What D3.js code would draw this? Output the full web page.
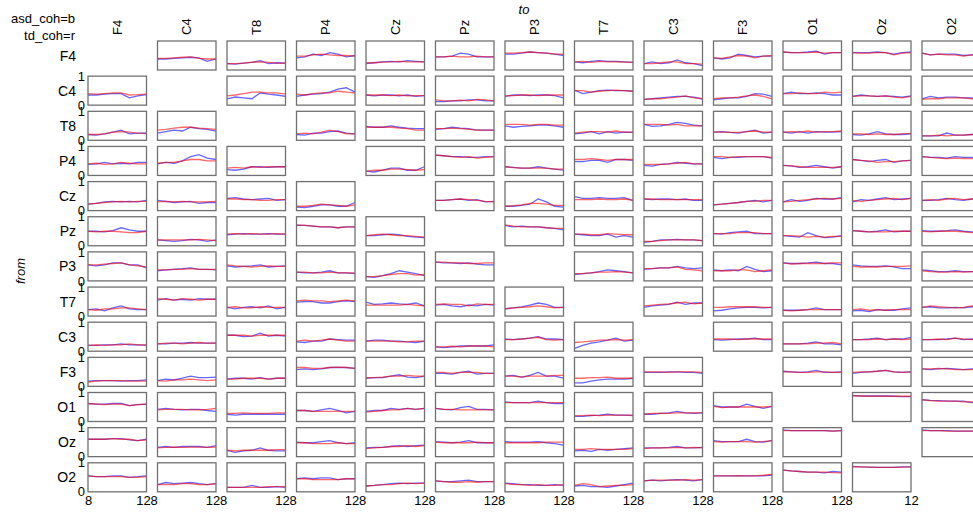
<!DOCTYPE html>
<html><head><meta charset="utf-8">
<script src="https://cdn.jsdelivr.net/npm/d3@7"></script>
<style>body{margin:0;background:#fff}svg{display:block;font-family:Arial,"Liberation Sans",Helvetica,sans-serif}</style>
</head><body><svg id="c" width="973" height="512"></svg>
<script>
const channels = ["F4","C4","T8","P4","Cz","Pz","P3","T7","C3","F3","O1","Oz","O2"];
const freqs = [8,25,42,59,76,93,110,128];
const yTickValues = [0,1];
const legendLines = ["asd_coh=b","td_coh=r"];
const bottomTickLabels = [["8","128"],["128"],["128"],["128"],["128"],["128"],["128"],["128"],["128"],["128"],["128"],["12"],[]];

// asd (blue) per "from" row, 13 "to" columns each
const asd_F4 = [null,[.38,.38,.40,.42,.44,.42,.30,.38],[.22,.20,.24,.26,.32,.22,.25,.24],[.42,.45,.55,.50,.60,.55,.45,.50],[.22,.25,.28,.30,.28,.32,.30,.28],[.45,.45,.48,.58,.55,.45,.45,.45],[.55,.55,.58,.62,.60,.58,.55,.50],[.28,.25,.30,.32,.30,.30,.28,.26],[.22,.28,.22,.25,.35,.25,.22,.15],[.42,.38,.42,.55,.50,.45,.48,.48],[.62,.60,.60,.62,.65,.55,.60,.60],[.60,.60,.60,.62,.60,.55,.60,.62],[.58,.52,.55,.55,.55,.50,.52,.52]];
const asd_C4 = [[.35,.35,.38,.40,.40,.25,.32,.36],null,[.22,.28,.25,.22,.42,.38,.35,.30],[.30,.35,.38,.40,.45,.55,.60,.45],[.35,.32,.35,.35,.32,.35,.30,.33],[.12,.12,.15,.15,.18,.18,.15,.15],[.30,.35,.35,.33,.35,.35,.33,.25],[.52,.40,.45,.50,.52,.50,.50,.48],[.20,.22,.25,.28,.30,.30,.28,.22],[.18,.22,.25,.25,.30,.40,.38,.30],[.40,.45,.40,.40,.42,.40,.35,.35],[.30,.35,.32,.30,.32,.30,.28,.32],[.22,.30,.25,.28,.28,.25,.25,.25]];
const asd_T8 = [[.20,.18,.22,.28,.35,.22,.25,.25],[.25,.30,.35,.32,.45,.40,.38,.32],null,[.20,.18,.25,.25,.30,.32,.25,.22],[.48,.45,.45,.50,.45,.42,.40,.40],[.38,.40,.45,.42,.40,.35,.35,.35],[.50,.45,.48,.50,.52,.52,.50,.45],[.22,.25,.30,.22,.30,.25,.28,.27],[.55,.48,.50,.55,.62,.58,.52,.50],[.28,.30,.27,.25,.30,.35,.25,.28],[.28,.25,.30,.25,.30,.28,.28,.30],[.20,.18,.22,.30,.22,.20,.20,.22],[.15,.15,.15,.25,.18,.18,.20,.20]];
const asd_P4 = [[.38,.40,.45,.40,.42,.40,.45,.45],[.40,.45,.42,.50,.65,.72,.60,.55],[.20,.18,.22,.30,.30,.28,.30,.30],null,[.15,.12,.18,.25,.25,.18,.18,.30],[.70,.68,.65,.65,.62,.62,.65,.65],[.30,.28,.25,.25,.30,.25,.22,.18],[.48,.48,.52,.52,.45,.55,.55,.52],[.35,.32,.38,.40,.45,.42,.40,.40],[.62,.58,.62,.62,.65,.65,.65,.60],[.35,.33,.28,.30,.35,.30,.25,.30],[.55,.52,.48,.52,.55,.45,.50,.52],[.65,.62,.62,.60,.65,.62,.62,.60]];
const asd_Cz = [[.22,.25,.30,.32,.30,.32,.30,.35],[.35,.32,.28,.30,.32,.25,.28,.28],[.42,.45,.40,.38,.40,.42,.35,.38],[.12,.10,.15,.20,.20,.15,.15,.28],null,[.35,.35,.38,.40,.35,.38,.30,.32],[.15,.15,.18,.22,.40,.30,.15,.12],[.48,.42,.42,.45,.42,.42,.45,.35],[.40,.38,.40,.40,.38,.40,.35,.35],[.20,.22,.25,.28,.32,.35,.30,.35],[.30,.38,.32,.35,.42,.40,.40,.45],[.30,.38,.35,.40,.45,.38,.40,.42],[.35,.35,.38,.42,.38,.35,.40,.42]];
const asd_Pz = [[.50,.50,.48,.52,.62,.55,.50,.50],[.20,.18,.15,.18,.22,.20,.15,.20],[.38,.40,.42,.40,.40,.42,.40,.40],[.70,.70,.68,.65,.65,.62,.65,.65],[.35,.35,.38,.40,.38,.32,.30,.28],null,[.70,.65,.68,.65,.65,.62,.60,.55],[.40,.38,.35,.35,.40,.30,.35,.30],[.12,.15,.20,.20,.22,.20,.20,.18],[.42,.40,.45,.48,.50,.42,.42,.42],[.35,.32,.30,.45,.35,.28,.30,.35],[.52,.50,.48,.50,.55,.48,.50,.50],[.52,.50,.50,.52,.55,.50,.48,.48]];
const asd_P3 = [[.55,.52,.55,.62,.62,.55,.55,.45],[.35,.38,.40,.42,.45,.40,.40,.38],[.52,.48,.50,.52,.55,.48,.50,.52],[.30,.28,.28,.30,.35,.28,.28,.25],[.15,.12,.18,.25,.35,.30,.25,.18],[.65,.62,.62,.60,.62,.58,.55,.55],null,[.22,.25,.28,.32,.38,.35,.32,.28],[.40,.42,.45,.45,.50,.45,.42,.45],[.38,.35,.38,.35,.50,.40,.32,.35],[.62,.60,.60,.62,.65,.60,.60,.55],[.55,.52,.50,.50,.52,.48,.42,.42],[.38,.35,.32,.32,.35,.32,.32,.32]];
const asd_T7 = [[.22,.25,.18,.28,.35,.25,.22,.22],[.55,.60,.55,.58,.55,.60,.58,.58],[.30,.25,.30,.32,.28,.35,.25,.30],[.48,.50,.50,.45,.45,.50,.52,.50],[.48,.40,.42,.45,.42,.40,.45,.35],[.38,.40,.35,.32,.38,.35,.40,.38],[.25,.28,.32,.38,.45,.40,.30,.30],null,[.30,.35,.38,.40,.48,.40,.45,.45],[.18,.20,.25,.28,.30,.30,.28,.30],[.20,.20,.20,.22,.28,.22,.22,.22],[.18,.20,.15,.22,.20,.20,.25,.28],[.30,.32,.28,.28,.30,.28,.32,.32]];
const asd_C3 = [[.20,.20,.22,.22,.25,.22,.22,.20],[.25,.25,.28,.28,.30,.28,.28,.28],[.55,.55,.50,.52,.62,.52,.55,.52],[.32,.30,.35,.35,.42,.40,.38,.38],[.35,.38,.38,.35,.35,.32,.30,.35],[.15,.12,.15,.18,.18,.18,.18,.22],[.42,.40,.42,.45,.50,.42,.42,.40],[.10,.20,.28,.32,.38,.45,.35,.38],null,[.40,.38,.40,.42,.42,.45,.40,.40],[.25,.25,.25,.28,.32,.25,.25,.22],[.40,.40,.42,.45,.40,.42,.42,.48],[.40,.40,.40,.42,.45,.40,.42,.42]];
const asd_F3 = [[.18,.20,.20,.20,.18,.20,.20,.22],[.20,.25,.22,.28,.35,.30,.30,.32],[.25,.28,.28,.25,.30,.25,.28,.28],[.58,.60,.58,.60,.65,.65,.65,.62],[.28,.30,.30,.35,.40,.32,.30,.35],[.45,.45,.42,.48,.52,.42,.45,.45],[.35,.38,.32,.38,.48,.35,.35,.28],[.12,.12,.18,.22,.25,.25,.25,.28],[.48,.48,.48,.50,.50,.48,.48,.45],null,[.52,.50,.48,.50,.55,.48,.48,.50],[.45,.48,.50,.52,.55,.50,.48,.50],[.60,.58,.60,.62,.60,.58,.60,.60]];
const asd_O1 = [[.62,.60,.60,.62,.62,.55,.58,.60],[.42,.45,.42,.40,.42,.42,.38,.35],[.25,.22,.25,.25,.25,.25,.25,.25],[.38,.38,.35,.40,.45,.38,.30,.35],[.35,.38,.38,.45,.42,.45,.42,.45],[.45,.42,.40,.48,.52,.42,.42,.40],[.68,.65,.65,.65,.70,.65,.62,.62],[.18,.18,.20,.22,.25,.22,.22,.20],[.25,.25,.28,.30,.35,.30,.28,.30],[.55,.50,.50,.50,.60,.52,.45,.52],null,[.90,.88,.88,.88,.88,.87,.86,.86],[.75,.73,.72,.70,.70,.70,.65,.70]];
const asd_Oz = [[.60,.60,.60,.62,.62,.58,.55,.60],[.32,.35,.32,.35,.35,.35,.32,.38],[.22,.15,.20,.22,.30,.22,.20,.20],[.50,.48,.48,.52,.55,.48,.45,.48],[.30,.32,.32,.35,.38,.35,.38,.40],[.52,.50,.48,.50,.55,.48,.48,.48],[.52,.50,.50,.50,.52,.48,.45,.40],[.20,.22,.18,.25,.22,.25,.28,.30],[.30,.30,.30,.32,.35,.30,.30,.32],[.55,.52,.52,.52,.60,.52,.50,.55],[.92,.90,.90,.90,.90,.90,.88,.90],null,[.92,.90,.90,.90,.88,.88,.88,.88]];
const asd_O2 = [[.55,.52,.52,.55,.55,.50,.52,.55],[.25,.32,.28,.30,.32,.28,.25,.28],[.15,.15,.15,.22,.15,.15,.18,.15],[.45,.48,.45,.48,.48,.42,.45,.45],[.20,.22,.25,.28,.30,.28,.30,.30],[.38,.35,.35,.38,.40,.35,.35,.35],[.30,.28,.25,.25,.22,.22,.25,.22],[.20,.22,.18,.18,.15,.20,.25,.30],[.38,.40,.38,.40,.42,.40,.38,.42],[.55,.55,.55,.55,.55,.55,.55,.58],[.75,.72,.70,.68,.68,.65,.70,.68],[.88,.86,.85,.84,.84,.84,.86,.86],null];

// td (red)
const td_F4 = [null,[.40,.40,.42,.44,.45,.40,.38,.38],[.22,.22,.24,.27,.28,.26,.24,.24],[.48,.48,.52,.55,.52,.50,.50,.48],[.25,.25,.27,.28,.30,.28,.28,.28],[.45,.45,.48,.45,.45,.48,.45,.45],[.58,.58,.60,.62,.60,.58,.55,.55],[.28,.30,.26,.30,.28,.28,.27,.26],[.22,.22,.25,.28,.28,.22,.22,.20],[.42,.40,.45,.50,.48,.42,.48,.50],[.62,.60,.60,.60,.62,.58,.60,.60],[.60,.58,.58,.60,.60,.52,.58,.60],[.58,.52,.55,.52,.52,.48,.52,.50]];
const td_C4 = [[.40,.38,.40,.42,.42,.35,.36,.38],null,[.32,.35,.40,.45,.45,.42,.42,.38],[.38,.35,.40,.42,.42,.48,.45,.42],[.35,.35,.35,.33,.35,.32,.33,.33],[.18,.15,.15,.17,.15,.20,.18,.15],[.32,.33,.35,.35,.33,.35,.35,.35],[.50,.50,.45,.48,.50,.52,.50,.48],[.20,.22,.22,.25,.28,.32,.25,.22],[.22,.25,.25,.28,.32,.35,.30,.22],[.40,.40,.42,.40,.40,.45,.42,.45],[.30,.32,.32,.30,.32,.28,.25,.30],[.20,.22,.22,.25,.25,.25,.22,.22]];
const td_T8 = [[.20,.20,.22,.28,.30,.28,.25,.24],[.35,.38,.42,.45,.45,.42,.40,.38],null,[.22,.25,.22,.28,.35,.30,.22,.22],[.45,.45,.45,.45,.42,.40,.35,.35],[.40,.40,.42,.40,.38,.35,.35,.35],[.55,.55,.55,.52,.55,.55,.52,.52],[.25,.28,.30,.30,.28,.32,.28,.28],[.55,.55,.55,.52,.55,.50,.50,.50],[.28,.28,.27,.27,.30,.32,.28,.28],[.28,.30,.28,.32,.28,.30,.30,.32],[.22,.22,.20,.22,.20,.20,.22,.24],[.15,.15,.18,.15,.18,.18,.20,.20]];
const td_P4 = [[.40,.42,.38,.40,.45,.42,.40,.40],[.42,.45,.45,.50,.55,.55,.50,.50],[.25,.28,.25,.30,.28,.30,.30,.30],null,[.15,.18,.18,.22,.22,.20,.18,.20],[.70,.68,.65,.62,.65,.60,.62,.65],[.30,.27,.25,.25,.25,.25,.22,.22],[.55,.55,.58,.55,.52,.55,.55,.55],[.38,.38,.38,.40,.42,.45,.40,.40],[.65,.65,.62,.65,.65,.65,.65,.62],[.35,.33,.30,.28,.28,.28,.28,.30],[.55,.52,.50,.45,.48,.48,.50,.52],[.65,.62,.60,.58,.60,.58,.58,.58]];
const td_Cz = [[.22,.25,.28,.30,.32,.30,.32,.32],[.30,.32,.30,.32,.30,.30,.30,.32],[.40,.40,.38,.38,.35,.35,.38,.38],[.15,.15,.18,.22,.20,.18,.15,.20],null,[.35,.35,.38,.40,.38,.35,.32,.30],[.15,.17,.20,.25,.25,.22,.18,.18],[.38,.38,.38,.40,.38,.38,.40,.35],[.40,.40,.38,.38,.38,.38,.38,.38],[.20,.22,.25,.28,.32,.32,.35,.35],[.30,.32,.35,.38,.40,.42,.40,.42],[.35,.32,.35,.38,.40,.42,.38,.42],[.35,.38,.35,.40,.42,.38,.40,.40]];
const td_Pz = [[.50,.48,.50,.50,.48,.45,.45,.50],[.20,.20,.20,.20,.20,.22,.20,.18],[.40,.42,.40,.42,.40,.40,.42,.40],[.72,.70,.68,.65,.65,.62,.65,.65],[.35,.38,.40,.38,.35,.35,.32,.30],null,[.72,.68,.65,.65,.65,.62,.60,.60],[.40,.40,.38,.38,.42,.40,.38,.38],[.15,.15,.18,.20,.20,.20,.20,.18],[.42,.42,.42,.45,.45,.45,.42,.42],[.35,.35,.33,.30,.32,.30,.32,.32],[.52,.50,.48,.48,.48,.50,.50,.50],[.50,.48,.50,.50,.50,.48,.45,.45]];
const td_P3 = [[.55,.55,.58,.60,.62,.55,.52,.48],[.38,.38,.40,.40,.42,.40,.40,.40],[.55,.52,.50,.48,.50,.52,.50,.50],[.30,.30,.28,.28,.30,.28,.28,.28],[.15,.15,.18,.22,.25,.25,.20,.22],[.65,.65,.62,.62,.60,.60,.62,.62],null,[.25,.25,.28,.30,.30,.32,.30,.28],[.42,.42,.45,.45,.48,.40,.38,.35],[.35,.35,.35,.38,.38,.32,.35,.38],[.62,.58,.60,.60,.60,.60,.62,.62],[.50,.48,.48,.48,.50,.50,.50,.52],[.35,.32,.30,.30,.32,.30,.32,.32]];
const td_T7 = [[.22,.20,.25,.25,.28,.28,.25,.22],[.60,.58,.55,.60,.58,.55,.58,.58],[.30,.32,.28,.28,.32,.30,.30,.30],[.52,.55,.52,.52,.50,.52,.55,.52],[.38,.38,.38,.38,.38,.40,.38,.35],[.40,.42,.40,.40,.35,.42,.40,.40],[.25,.28,.30,.32,.35,.32,.28,.30],null,[.35,.38,.40,.42,.45,.48,.42,.45],[.30,.30,.32,.32,.32,.32,.30,.30],[.20,.18,.20,.22,.22,.22,.22,.22],[.22,.25,.20,.22,.20,.22,.22,.22],[.30,.35,.32,.30,.28,.30,.35,.32]];
const td_C3 = [[.20,.22,.20,.22,.22,.25,.22,.22],[.25,.28,.28,.25,.28,.30,.28,.28],[.55,.55,.55,.52,.55,.55,.55,.55],[.35,.38,.35,.38,.42,.38,.35,.35],[.35,.35,.35,.35,.32,.33,.35,.35],[.15,.15,.17,.15,.18,.18,.18,.15],[.40,.40,.42,.45,.48,.40,.38,.40],[.30,.32,.35,.38,.38,.40,.38,.40],null,[.42,.42,.42,.40,.42,.42,.42,.42],[.25,.25,.25,.25,.28,.28,.30,.25],[.40,.40,.40,.42,.40,.42,.40,.42],[.40,.40,.42,.40,.45,.42,.40,.42]];
const td_F3 = [[.15,.18,.20,.20,.20,.18,.18,.18],[.20,.18,.22,.22,.25,.22,.20,.22],[.25,.25,.28,.28,.28,.25,.28,.28],[.65,.65,.62,.62,.65,.66,.65,.62],[.30,.30,.32,.35,.35,.38,.35,.35],[.48,.48,.45,.48,.48,.48,.45,.45],[.35,.35,.32,.35,.35,.35,.38,.38],[.28,.28,.30,.30,.32,.28,.28,.28],[.50,.50,.50,.48,.50,.50,.50,.48],null,[.50,.50,.48,.48,.50,.50,.48,.48],[.48,.50,.50,.52,.55,.50,.48,.50],[.60,.60,.62,.60,.58,.58,.58,.58]];
const td_O1 = [[.62,.60,.58,.60,.60,.55,.58,.60],[.40,.42,.42,.42,.40,.40,.42,.45],[.28,.28,.30,.28,.28,.28,.30,.30],[.38,.38,.35,.35,.35,.35,.35,.35],[.32,.35,.38,.40,.40,.45,.42,.45],[.45,.42,.42,.40,.40,.40,.40,.40],[.65,.65,.65,.65,.65,.65,.65,.65],[.20,.20,.22,.20,.22,.22,.22,.22],[.25,.28,.28,.28,.30,.30,.30,.30],[.52,.48,.50,.50,.50,.50,.50,.52],null,[.88,.88,.87,.87,.87,.87,.87,.87],[.75,.72,.70,.70,.70,.68,.68,.68]];
const td_Oz = [[.60,.60,.60,.62,.60,.60,.55,.58],[.30,.32,.33,.32,.33,.33,.32,.33],[.22,.20,.22,.22,.22,.22,.24,.24],[.48,.48,.45,.45,.45,.48,.45,.45],[.28,.30,.32,.35,.35,.38,.35,.38],[.50,.48,.48,.48,.48,.50,.48,.48],[.48,.48,.48,.48,.48,.50,.50,.50],[.25,.25,.28,.25,.25,.25,.25,.28],[.28,.30,.30,.30,.32,.30,.32,.30],[.52,.50,.52,.52,.52,.50,.52,.55],[.90,.90,.90,.90,.90,.90,.88,.90],null,[.90,.90,.90,.88,.88,.88,.88,.88]];
const td_O2 = [[.55,.52,.52,.52,.52,.50,.50,.52],[.25,.25,.25,.28,.28,.25,.25,.28],[.15,.15,.15,.15,.15,.18,.18,.18],[.45,.45,.42,.42,.42,.42,.45,.45],[.20,.22,.25,.25,.28,.30,.28,.30],[.38,.35,.33,.33,.35,.33,.35,.35],[.28,.25,.25,.22,.25,.22,.22,.25],[.22,.28,.25,.18,.20,.22,.22,.25],[.38,.40,.40,.40,.40,.42,.40,.42],[.55,.55,.55,.56,.55,.55,.57,.60],[.75,.72,.70,.68,.68,.68,.66,.65],[.86,.86,.85,.84,.84,.84,.85,.86],null];

const asdRows = [asd_F4,asd_C4,asd_T8,asd_P4,asd_Cz,asd_Pz,asd_P3,asd_T7,asd_C3,asd_F3,asd_O1,asd_Oz,asd_O2];
const tdRows = [td_F4,td_C4,td_T8,td_P4,td_Cz,td_Pz,td_P3,td_T7,td_C3,td_F3,td_O1,td_Oz,td_O2];

const svg = d3.select("#c");
const X0 = 88, PX = 69.5, CW = 58.5, Y0 = 41, PY = 35.15, CH = 29;
const n = channels.length;
const fontSize = 13;

// legend text
svg.selectAll("text.leg").data(legendLines).join("text")
  .attr("x", 75).attr("y", (d,i)=> 23 + i*17)
  .attr("text-anchor","end").attr("font-size", fontSize).text(d=>d);

// titles
svg.append("text").attr("x", 524).attr("y", 14).attr("text-anchor","middle")
  .attr("font-size", fontSize).attr("font-style","italic").text("to");
svg.append("text").attr("transform","translate(25,271) rotate(-90)").attr("text-anchor","middle")
  .attr("font-size", fontSize).attr("font-style","italic").text("from");

// column labels
svg.selectAll("text.col").data(channels).join("text")
  .attr("transform",(d,j)=>`translate(${X0 + j*PX + CW/2},35) rotate(-90)`)
  .attr("dominant-baseline","central").attr("text-anchor","start")
  .attr("font-size", fontSize).text(d=>d);

// row labels
svg.selectAll("text.row").data(channels).join("text")
  .attr("x", 76).attr("y",(d,i)=> Y0 + i*PY + CH/2)
  .attr("dominant-baseline","central").attr("text-anchor","end")
  .attr("font-size", 14).text(d=>d);

const line = (xs, ys) => d3.line().x((d,k)=>xs(freqs[k])).y(d=>ys(d));

for (let i=0;i<n;i++){
  for (let j=0;j<n;j++){
    const a = asdRows[i][j], t = tdRows[i][j];
    if (!a || !t) continue;
    const cx = X0 + j*PX, cy = Y0 + i*PY;
    const xs = d3.scaleLinear().domain([8,128]).range([cx, cx+CW]);
    const ys = d3.scaleLinear().domain([0,1]).range([cy+CH, cy]);
    const g = svg.append("g");
    g.append("path").datum(a).attr("d", line(xs,ys)).attr("fill","none")
      .attr("stroke","#0000ff").attr("stroke-opacity",0.6).attr("stroke-width",1.3);
    g.append("path").datum(t).attr("d", line(xs,ys)).attr("fill","none")
      .attr("stroke","#ff0000").attr("stroke-opacity",0.6).attr("stroke-width",1.3);
    g.append("rect").attr("x",cx).attr("y",cy).attr("width",CW).attr("height",CH)
      .attr("fill","none").attr("stroke","#707070").attr("stroke-width",1.3);
    if (j===0){
      const ax = g.append("g").attr("transform",`translate(${cx},0)`)
        .call(d3.axisLeft(ys).tickValues(yTickValues).tickSize(0).tickPadding(3).tickFormat(d3.format("d")));
      ax.select(".domain").remove();
      ax.selectAll("text").attr("font-size", fontSize).attr("font-family","Arial, 'Liberation Sans', sans-serif").attr("fill","#000");
    }
    if (i===n-1){
      const labs = bottomTickLabels[j];
      const vals = labs.length===2 ? [8,128] : [128];
      const ax = g.append("g").attr("transform",`translate(0,${cy+CH})`)
        .call(d3.axisBottom(xs).tickValues(vals).tickSize(0).tickPadding(4).tickFormat((d,k)=>labs[k]));
      ax.select(".domain").remove();
      ax.selectAll("text").attr("font-size", fontSize).attr("font-family","Arial, 'Liberation Sans', sans-serif").attr("fill","#000");
    }
  }
}
</script></body></html>
